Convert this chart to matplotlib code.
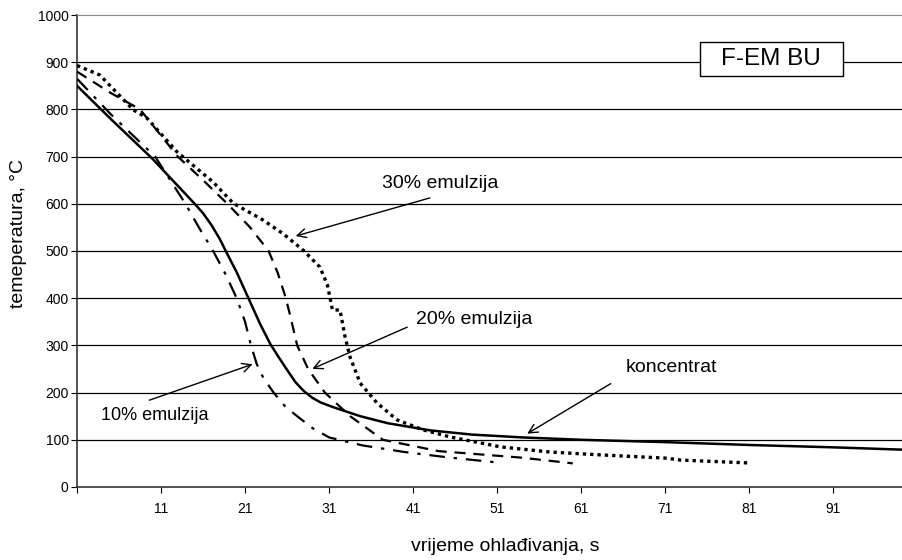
import matplotlib.pyplot as plt
from matplotlib.patches import Rectangle

plt.rcParams['font.family'] = ['Liberation Sans', 'DejaVu Sans']

# koncentrat (solid)
kon_t = [1, 5, 10, 15, 16, 17, 18, 18.7, 20, 21.4, 22.8, 24, 25, 26, 27, 28, 29, 30,
         31.5, 34.7, 38, 43, 48, 54, 61, 71, 81, 91, 99.3]
kon_T = [850, 780, 695, 600, 580, 555, 525, 500, 455, 400, 345, 303, 275, 248, 222, 203,
         189, 179, 169, 150, 135, 120, 111, 105, 100, 95, 89, 84, 79]

# 10% emulzija (dash-dot)
e10_t = [1, 5, 10.3, 13.9, 15.5, 17.2, 18.7, 20, 21, 21.7, 22.4, 23.2, 24.4, 25.8,
         27.2, 29, 31, 35, 40, 45, 51]
e10_T = [865, 790, 700, 600, 550, 500, 450, 400, 350, 300, 260, 230, 200, 170,
         150, 125, 105, 88, 74, 63, 52]

# 20% emulzija (dashed)
e20_t = [1, 5, 8.5, 13, 16, 18.9, 21.6, 23.8, 24.9, 25.8, 26.4, 27.2, 28.5, 30.5,
         33.5, 37.4, 44, 54, 60]
e20_T = [880, 835, 800, 700, 650, 600, 550, 500, 453, 403, 361, 300, 250, 200,
         150, 100, 76, 62, 50]

# 30% emulzija (dotted, stepwise)
e30_t = [1, 3.7, 7.7, 9.3, 12.9, 17.2, 19.6, 23.1, 25.5, 27.9, 29.9, 30.8, 31.4, 32.3, 32.9,
         33.5, 34.7, 36.7, 39.1, 42.2, 45.4, 51.4, 57.3, 63.3, 71.2, 72.8, 80.8]
e30_T = [893, 873, 799, 782, 710, 646, 601, 566, 537, 502, 466, 428, 375, 375, 318,
         275, 220, 178, 142, 121, 106, 85, 74, 68, 61, 57, 51]

x_ticks = [1, 11, 21, 31, 41, 51, 61, 71, 81, 91]
x_labels = ['', '11', '21', '31', '41', '51', '61', '71', '81', '91']
y_ticks = list(range(0, 1001, 100))

fig = plt.figure(figsize=(9.03, 5.6), dpi=100)
ax = fig.add_axes([0.0853, 0.1304, 0.9147, 0.8428])

for yv in y_ticks[1:-1]:
    ax.axhline(yv, color='black', lw=0.9, zorder=1)

ax.plot(kon_t, kon_T, color='black', lw=1.8, ls='-', zorder=3)
ax.plot(e10_t, e10_T, color='black', lw=1.6, ls=(0, (7, 4, 1.5, 4)), zorder=3)
ax.plot(e20_t, e20_T, color='black', lw=1.6, ls=(0, (5, 3.5)), zorder=3)
ax.plot(e30_t, e30_T, color='black', lw=2.4, ls=(0, (1, 1.2)), zorder=3)

ax.set_xlim(1, 99.3)
ax.set_ylim(0, 1000)
ax.set_xticks(x_ticks)
ax.set_xticklabels(x_labels, fontsize=10)
ax.set_yticks(y_ticks)
ax.tick_params(axis='y', labelsize=10, length=4, direction='out', pad=2)
ax.tick_params(axis='x', length=4, direction='out', pad=7)

for s in ['left', 'bottom']:
    ax.spines[s].set_color('#333333')
    ax.spines[s].set_linewidth(1.2)
ax.spines['top'].set_color('#888888')
ax.spines['right'].set_visible(False)

ax.set_xlabel('vrijeme ohlađivanja, s', fontsize=14, va='center')
ax.xaxis.set_label_coords(0.519, -0.127)
ax.set_ylabel('temeperatura, °C', fontsize=14, va='center')
ax.yaxis.set_label_coords(-0.0714, 0.538)

arrow = dict(arrowstyle='->', color='black', lw=1.0, mutation_scale=16)
ax.annotate('', xy=(26.7, 530), xytext=(43.3, 614), arrowprops=arrow)
ax.text(44.2, 644, '30% emulzija', fontsize=14, ha='center', va='center')
ax.annotate('', xy=(28.7, 248), xytext=(40.6, 341), arrowprops=arrow)
ax.text(48.3, 354, '20% emulzija', fontsize=14, ha='center', va='center')
ax.annotate('', xy=(22.2, 262), xytext=(9.3, 182), arrowprops=arrow)
ax.text(10.3, 152, '10% emulzija', fontsize=13, ha='center', va='center')
ax.annotate('', xy=(54.3, 110), xytext=(64.8, 222), arrowprops=arrow)
ax.text(71.7, 254, 'koncentrat', fontsize=14, ha='center', va='center')

# label box
ax.add_patch(Rectangle((0.754, 0.871), 0.173, 0.072, transform=ax.transAxes,
                       fc='white', ec='black', lw=1.0, zorder=5))
ax.text(0.754 + 0.173 / 2, 0.871 + 0.036, 'F-EM BU', transform=ax.transAxes,
        fontsize=17.5, ha='center', va='center', zorder=6)

fig.savefig('out.png', dpi=100)
